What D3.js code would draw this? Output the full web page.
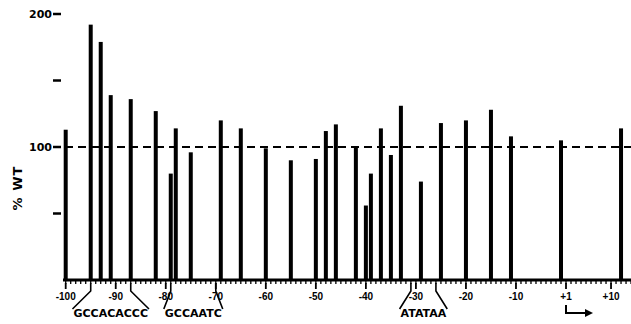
<!DOCTYPE html>
<html>
<head>
<meta charset="utf-8">
<script src="https://cdn.jsdelivr.net/npm/d3@7"></script>
<style>
  body { margin: 0; background: #fff; }
  text { font-family: "DejaVu Sans", sans-serif; font-weight: bold; fill: #000; }
</style>
</head>
<body>
<div class="chart"></div>
<script>
var width = 631, height = 324;

// positions relative to transcription start (no position 0)
var positions = [-100, -95, -93, -91, -87, -82, -79, -78, -75, -69, -65, -60, -55, -50, -48, -46,
                 -42, -40, -39, -37, -35, -33, -29, -25, -20, -15, -11, -1, 12];
var pctWT = [113, 192, 179, 139, 136, 127, 80, 114, 96, 120, 114, 99, 90, 91, 112, 117,
             100, 56, 80, 114, 94, 131, 74, 118, 120, 128, 108, 105, 114];

var xTickValues = [-100, -90, -80, -70, -60, -50, -40, -30, -20, -10, 1, 10];
var xTickLabels = ["-100", "-90", "-80", "-70", "-60", "-50", "-40", "-30", "-20", "-10", "+1", "+10"];
var yTickValues = [50, 100, 150, 200];
var yTickLabels = ["", "100", "", "200"];

var boxes = [
  {label: "GCCACACCC", from: -95, to: -87},
  {label: "GCCAATC", from: -79, to: -70},
  {label: "ATATAA", from: -31, to: -26}
];

// there is no position 0, so +1 sits right after -1
function idx(p) { return p < 0 ? p : p - 1; }

var x = d3.scaleLinear().domain([-100, 0]).range([65.7, 566]);
var y = d3.scaleLinear().domain([0, 200]).range([280, 14]);

var svg = d3.select(".chart")
            .append("svg")
            .attr("width", width)
            .attr("height", height);

// minor ticks below the baseline
svg.append("g")
    .selectAll("line")
    .data(d3.range(-100, 14))
  .enter().append("line")
    .attr("x1", function(d) { return x(d); })
    .attr("x2", function(d) { return x(d); })
    .attr("y1", 280)
    .attr("y2", 284)
    .attr("stroke", "#000")
    .attr("stroke-width", 1.3);

// major ticks + labels
var xt = svg.append("g").selectAll("g")
    .data(xTickValues)
  .enter().append("g")
    .attr("transform", function(d) { return "translate(" + x(idx(d)) + ",0)"; });
xt.append("line")
    .attr("y1", 283).attr("y2", 289)
    .attr("stroke", "#000").attr("stroke-width", 1.8);
xt.append("text")
    .attr("y", 300)
    .attr("text-anchor", "middle")
    .style("font-family", "'Liberation Sans', Arial, sans-serif")
    .style("font-size", "10px")
    .text(function(d, i) { return xTickLabels[i]; });

// baseline
svg.append("line")
    .attr("x1", 63).attr("x2", width)
    .attr("y1", y(0)).attr("y2", y(0))
    .attr("stroke", "#000").attr("stroke-width", 3);

// y ticks (no axis line)
var yt = svg.append("g").selectAll("g")
    .data(yTickValues)
  .enter().append("g")
    .attr("transform", function(d) { return "translate(0," + y(d) + ")"; });
yt.append("line")
    .attr("x1", 53).attr("x2", 61)
    .attr("stroke", "#000").attr("stroke-width", 2.5);
yt.append("text")
    .attr("x", 52)
    .attr("dy", "0.35em")
    .attr("text-anchor", "end")
    .style("font-size", "11px")
    .text(function(d, i) { return yTickLabels[i]; });

svg.append("text")
    .attr("transform", "translate(22,188) rotate(-90)")
    .attr("text-anchor", "middle")
    .style("font-size", "13px")
    .style("letter-spacing", "1px")
    .text("% WT");

// 100% reference line
svg.append("line")
    .attr("x1", 65).attr("x2", width)
    .attr("y1", y(100)).attr("y2", y(100))
    .attr("stroke", "#000").attr("stroke-width", 2)
    .attr("stroke-dasharray", "8,5");

// bars
svg.append("g")
    .selectAll("rect")
    .data(positions)
  .enter().append("rect")
    .attr("x", function(d) { return x(idx(d)) - 2; })
    .attr("width", 4)
    .attr("y", function(d, i) { return y(pctWT[i]); })
    .attr("height", function(d, i) { return y(0) - y(pctWT[i]); })
    .attr("fill", "#000");

// promoter elements
var bx = svg.append("g").selectAll("g")
    .data(boxes)
  .enter().append("g");
bx.each(function(d) {
  var g = d3.select(this);
  var x0 = x(idx(d.from)), x1 = x(idx(d.to)), mid = (x0 + x1) / 2;
  var t = g.append("text")
      .attr("x", mid)
      .attr("y", 317)
      .attr("text-anchor", "middle")
      .style("font-size", "11px")
      .text(d.label);
  var w = t.node().getComputedTextLength();
  g.append("path")
      .attr("d", "M" + x0 + ",283V291L" + (mid - w / 2 - 1) + ",309" +
                 "M" + x1 + ",283V291L" + (mid + w / 2 + 1) + ",309")
      .attr("fill", "none")
      .attr("stroke", "#000")
      .attr("stroke-width", 1.6);
});

// transcription start arrow
var xs = x(idx(1));
svg.append("path")
    .attr("d", "M" + xs + ",305V313H" + (xs + 20))
    .attr("fill", "none").attr("stroke", "#000").attr("stroke-width", 2);
svg.append("path")
    .attr("d", "M" + (xs + 27) + ",313L" + (xs + 19) + ",309V317Z")
    .attr("fill", "#000");
</script>
</body>
</html>
